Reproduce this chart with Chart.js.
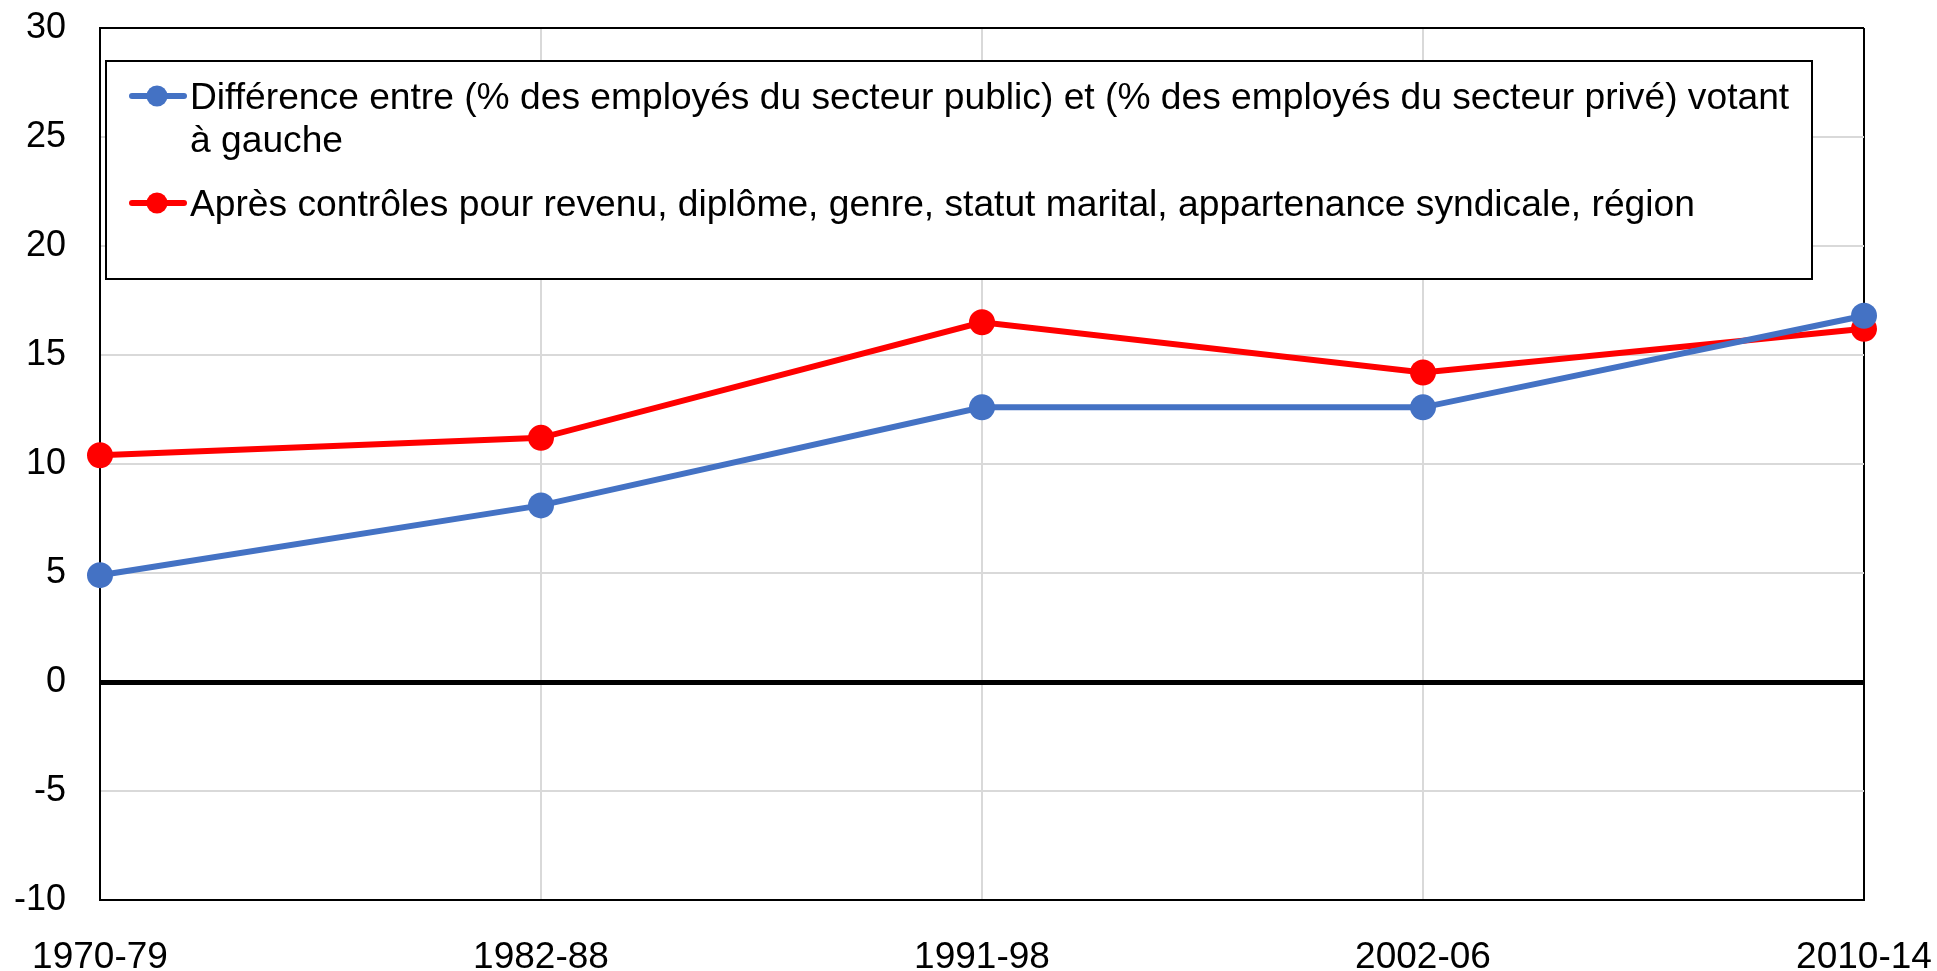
<!DOCTYPE html>
<html>
<head>
<meta charset="utf-8">
<script src="https://cdn.jsdelivr.net/npm/chart.js@4"></script>
<style>
  html, body { margin: 0; padding: 0; background: #fff; }
  #wrap { position: relative; width: 1937px; height: 971px; }
</style>
</head>
<body>
<div id="wrap"><canvas id="chart"></canvas></div>
<script>
// periods on the x axis
let periods = ['1970-79', '1982-88', '1991-98', '2002-06', '2010-14'];
// gap public vs private employees voting left (points of %)
let rawGap = [4.9, 8.1, 12.6, 12.6, 16.8];
// same gap after controls
let controlledGap = [10.4, 11.2, 16.5, 14.2, 16.2];
let seriesNames = [
    'Différence entre (% des employés du secteur public) et (% des employés du secteur privé) votant à gauche',
    'Après contrôles pour revenu, diplôme, genre, statut marital, appartenance syndicale, région'
];
// legend text as it wraps in the box
let legendLines = [
    ['Différence entre (% des employés du secteur public) et (% des employés du secteur privé) votant', 'à gauche'],
    ['Après contrôles pour revenu, diplôme, genre, statut marital, appartenance syndicale, région']
];
let yMin = -10, yMax = 30, yStep = 5;

const FONT = "'Liberation Sans', Arial, sans-serif";
const BLUE = '#4472C4', RED = '#FF0000', GRID = '#d9d9d9';

// boxed legend inside the plot, drawn from the dataset styles
const boxLegend = {
    id: 'boxLegend',
    afterDraw(chart) {
        const c = chart.ctx;
        c.save();
        c.lineWidth = 2;
        c.strokeStyle = '#000';
        c.fillStyle = '#fff';
        c.fillRect(106, 61, 1706, 218);
        c.strokeRect(106, 61, 1706, 218);
        c.font = '37.2px ' + FONT;
        c.textBaseline = 'alphabetic';
        let rows = [109, 216];
        chart.data.datasets.forEach(function(ds, i) {
            let y = rows[i] - 13;
            c.strokeStyle = ds.borderColor;
            c.lineWidth = 6;
            c.lineCap = 'round';
            c.beginPath();
            c.moveTo(132, y);
            c.lineTo(184, y);
            c.stroke();
            c.fillStyle = ds.backgroundColor;
            c.beginPath();
            c.arc(157, y, 10.5, 0, Math.PI * 2);
            c.fill();
            c.fillStyle = '#000';
            legendLines[i].forEach(function(t, k) {
                c.fillText(t, 190, rows[i] + k * 43);
            });
        });
        c.restore();
    }
};

const ctx = document.getElementById('chart').getContext('2d');
const chart = new Chart(ctx, {
    type: 'line',
    data: {
        labels: periods,
        datasets: [{
            label: seriesNames[0],
            data: rawGap,
            borderColor: BLUE,
            backgroundColor: BLUE,
            borderWidth: 6,
            pointRadius: 13,
            pointBorderWidth: 0,
            tension: 0
        }, {
            label: seriesNames[1],
            data: controlledGap,
            borderColor: RED,
            backgroundColor: RED,
            borderWidth: 6,
            pointRadius: 13,
            pointBorderWidth: 0,
            tension: 0
        }]
    },
    options: {
        responsive: true,
        maintainAspectRatio: false,
        animation: false,
        events: [],
        layout: { padding: { top: 28, right: 73, bottom: 0, left: 0 } },
        plugins: {
            legend: { display: false },
            tooltip: { enabled: false }
        },
        scales: {
            x: {
                offset: false,
                grid: {
                    drawTicks: false,
                    color: (c) => c.index === periods.length - 1 ? '#000' : GRID,
                    lineWidth: 2
                },
                border: { display: true, color: '#000', width: 2 },
                ticks: {
                    color: '#000',
                    font: { family: FONT, size: 37 },
                    padding: 36,
                    maxRotation: 0,
                    autoSkip: false
                },
                afterFit(s) {
                    s.height = 71;
                    s.paddingLeft = 0;
                    s.paddingRight = 0;
                }
            },
            y: {
                min: yMin,
                max: yMax,
                grid: {
                    drawTicks: false,
                    color: (c) => (c.tick.value === 0 || c.tick.value === yMax) ? '#000' : GRID,
                    lineWidth: (c) => c.tick.value === 0 ? 5 : 2
                },
                border: { display: true, color: '#000', width: 2 },
                ticks: {
                    stepSize: yStep,
                    color: '#000',
                    font: { family: FONT, size: 36 },
                    padding: 34
                },
                afterFit(s) {
                    s.width = 100;
                    s.paddingTop = 0;
                    s.paddingBottom = 0;
                }
            }
        }
    },
    plugins: [boxLegend]
});
</script>
</body>
</html>
